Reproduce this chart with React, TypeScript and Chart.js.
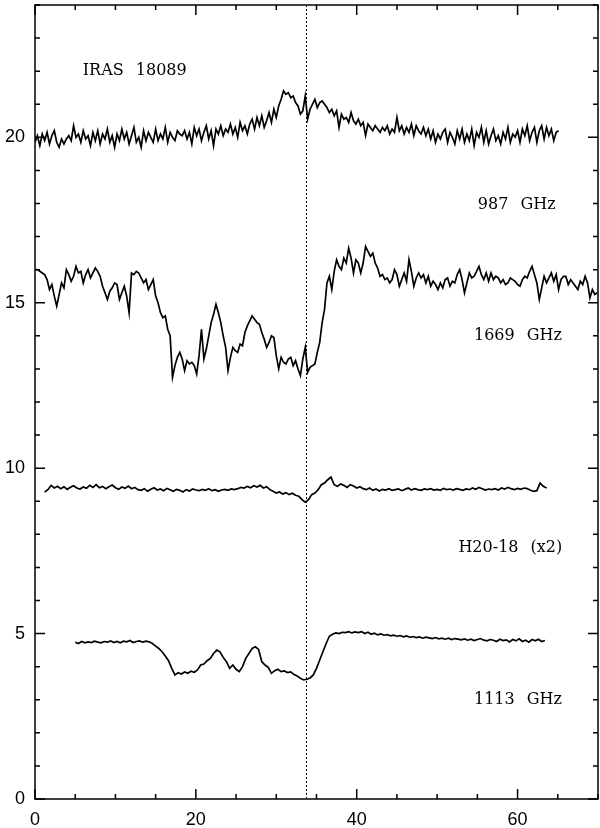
import React, { useEffect, useRef } from "react";
import { Chart, registerables } from "chart.js";

Chart.register(...registerables);

// ---- data ----
const xTicks = [0, 20, 40, 60];
const yTicks = [0, 5, 10, 15, 20];

// 987 GHz spectrum (offset to ~20)
const s987Start = 0;
const s987Step = 0.3;
const s987 = [
  19.85, 20.05, 19.75, 20.1, 19.9, 20.15, 19.8, 20.05, 20.2, 19.85,
  19.7, 19.95, 19.8, 19.95, 20.05, 19.9, 20.35, 20.0, 20.1, 19.85,
  20.2, 19.95, 20.05, 19.75, 20.15, 19.9, 20.2, 19.8, 20.1, 19.95,
  20.25, 19.85, 20.05, 19.7, 20.1, 19.9, 20.25, 19.95, 20.15, 19.8,
  20.05, 20.3, 19.85, 20.0, 19.7, 20.2, 19.9, 20.15, 20.0, 19.85,
  20.25, 19.9, 20.1, 19.95, 20.3, 19.85, 20.15, 20.0, 19.9, 20.2,
  20.1, 20.05, 20.2, 19.95, 20.15, 19.8, 20.3, 20.05, 20.25, 19.9,
  20.15, 20.35, 19.95, 20.2, 19.75, 20.25, 20.1, 20.35, 20.05, 20.25,
  20.15, 20.4, 20.1, 20.3, 20.0, 20.45, 20.2, 20.35, 20.1, 20.4,
  20.55, 20.25, 20.6, 20.35, 20.65, 20.3, 20.5, 20.75, 20.45, 20.85,
  20.6, 20.95, 21.15, 21.4, 21.3, 21.35, 21.2, 21.25, 21.05, 20.95,
  20.7, 20.8, 21.25, 20.55, 20.85, 21.0, 21.15, 20.9, 21.05, 21.1,
  21.0, 20.9, 20.75, 20.85, 20.65, 20.8, 20.3, 20.7, 20.55, 20.6,
  20.45, 20.75, 20.5, 20.4, 20.55, 20.35, 20.45, 20.05, 20.4, 20.3,
  20.2, 20.35, 20.25, 20.15, 20.3, 20.2, 20.35, 20.1, 20.25, 20.15,
  20.6, 20.2, 20.35, 20.1, 20.3, 20.15, 20.4, 20.05, 20.35, 20.2,
  20.1, 20.3, 20.05, 20.25, 19.95, 20.2, 19.85, 20.1, 19.95, 20.15,
  20.25, 19.85, 20.15, 20.0, 19.8, 20.2, 19.95, 20.25, 19.85, 20.1,
  19.9, 20.25, 19.75, 20.15, 20.0, 20.3, 19.85, 20.2, 19.8, 20.05,
  20.25, 19.9, 20.05, 19.8, 20.15, 19.95, 20.3, 19.85, 20.1, 20.0,
  20.2, 19.85, 20.25, 20.05, 20.35, 19.9, 20.15, 20.3, 19.85, 20.2,
  20.35, 19.95, 20.3, 20.05, 20.25, 19.9, 20.15, 20.2,
];

// 1669 GHz spectrum (offset to ~15.5)
const s1669Start = 0;
const s1669Step = 0.3;
const s1669 = [
  16.0, 16.0, 15.95, 15.9, 15.85, 15.7, 15.4, 15.55, 15.2, 14.9,
  15.25, 15.6, 15.45, 16.0, 15.85, 15.65, 15.8, 16.1, 15.9, 15.95,
  15.6, 15.85, 16.0, 15.75, 15.9, 16.05, 15.95, 15.8, 15.5, 15.3,
  15.1, 15.35, 15.45, 15.6, 15.55, 15.1, 15.3, 15.5, 15.2, 14.7,
  15.9, 15.85, 15.95, 15.9, 15.75, 15.6, 15.7, 15.4, 15.55, 15.7,
  15.2, 15.0, 14.7, 14.55, 14.6, 14.2, 14.0, 12.75, 13.1, 13.35,
  13.5, 13.3, 12.95, 13.25, 13.15, 13.2, 13.1, 12.85, 13.4, 14.2,
  13.3, 13.6, 14.0, 14.4, 14.65, 14.95, 14.7, 14.4, 14.0, 13.65,
  12.95, 13.35, 13.65, 13.55, 13.5, 13.75, 13.7, 14.1, 14.3, 14.45,
  14.6, 14.5, 14.4, 14.35, 14.1, 13.9, 13.65, 13.8, 14.0, 13.95,
  13.4, 13.0, 13.35, 13.2, 13.15, 13.3, 13.35, 13.1, 13.25, 13.0,
  12.8, 13.3, 13.65, 12.9, 13.05, 13.1, 13.15, 13.5, 13.8, 14.4,
  14.8, 15.6, 15.8, 15.4, 15.95, 16.3, 16.1, 16.0, 16.35, 16.2,
  16.65, 16.35, 15.9, 16.3, 16.2, 15.9, 16.2, 16.7, 16.55, 16.4,
  16.5, 16.2, 16.05, 15.8, 15.85, 15.7, 15.75, 15.6, 15.7, 16.0,
  15.85, 15.5, 15.7, 15.9, 15.65, 16.3, 15.95, 15.5, 15.75, 15.9,
  15.75, 15.85, 15.6, 15.8, 15.5, 15.65, 15.55, 15.4, 15.6, 15.45,
  15.7, 15.75, 15.5, 15.65, 15.6, 15.85, 16.0, 15.7, 15.3, 15.6,
  15.9, 15.75, 15.8, 15.95, 16.1, 15.85, 15.7, 15.9, 15.65, 15.9,
  15.7, 15.8, 15.75, 15.6, 15.7, 15.55, 15.6, 15.75, 15.7, 15.65,
  15.55, 15.5, 15.7, 15.8, 15.75, 15.95, 16.1, 15.85, 15.6, 15.1,
  15.45, 15.8, 15.6, 15.75, 15.9, 15.65, 15.85, 15.4, 15.7, 15.8,
  15.8, 15.55, 15.7, 15.6, 15.5, 15.4, 15.65, 15.55, 15.8, 15.6,
  15.15, 15.4, 15.25, 15.3,
];

// H2O-18 (x2) spectrum (offset to ~9.4)
const sH2OStart = 1.2;
const sH2OStep = 0.4;
const sH2O = [
  9.28, 9.35, 9.48, 9.4, 9.45, 9.38, 9.44, 9.36, 9.42, 9.47,
  9.4, 9.37, 9.43, 9.39, 9.48, 9.42, 9.5, 9.41, 9.45, 9.38,
  9.44, 9.49, 9.41, 9.36, 9.43, 9.39, 9.46, 9.38, 9.42, 9.35,
  9.33, 9.38, 9.3, 9.36, 9.41, 9.34, 9.37, 9.32, 9.39, 9.35,
  9.3, 9.36, 9.33, 9.28, 9.35, 9.31, 9.37, 9.34, 9.32, 9.36,
  9.33, 9.38, 9.32, 9.35, 9.3, 9.34, 9.36, 9.33, 9.37, 9.35,
  9.38, 9.42, 9.4, 9.45, 9.41, 9.47, 9.43, 9.48, 9.4, 9.44,
  9.35, 9.3, 9.25, 9.28, 9.22, 9.26, 9.2, 9.24, 9.18, 9.15,
  9.05, 8.97, 9.05, 9.2, 9.25, 9.35, 9.5, 9.55, 9.65, 9.73,
  9.5, 9.45, 9.52, 9.48, 9.42, 9.5, 9.46, 9.4, 9.44, 9.38,
  9.35, 9.4, 9.33, 9.37, 9.31, 9.36, 9.34, 9.38, 9.33, 9.35,
  9.37, 9.32, 9.36, 9.4, 9.34, 9.38, 9.35, 9.33, 9.37, 9.35,
  9.38, 9.34, 9.36, 9.33, 9.39, 9.35, 9.37, 9.34, 9.38, 9.36,
  9.33, 9.37, 9.35, 9.4, 9.36, 9.42, 9.38, 9.34, 9.37, 9.35,
  9.38, 9.34, 9.4, 9.37, 9.42, 9.38, 9.35, 9.39, 9.36, 9.4,
  9.38, 9.33, 9.3, 9.32, 9.55, 9.45, 9.4,
];

// 1113 GHz spectrum (offset to ~4.8)
const s1113Start = 5.0;
const s1113Step = 0.4;
const s1113 = [
  4.74, 4.7, 4.76, 4.72, 4.75, 4.73, 4.77, 4.74, 4.72, 4.76,
  4.74, 4.78, 4.73, 4.76, 4.72, 4.77, 4.75, 4.79, 4.73, 4.76,
  4.78, 4.74, 4.77, 4.75, 4.7, 4.62, 4.55, 4.45, 4.32, 4.18,
  3.95, 3.75, 3.82, 3.78, 3.84, 3.8, 3.86, 3.83, 3.9, 4.05,
  4.08, 4.18, 4.25, 4.4, 4.5, 4.45, 4.28, 4.15, 3.95, 4.05,
  3.92, 3.85, 4.0, 4.25, 4.4, 4.55, 4.6, 4.52, 4.15, 4.05,
  3.98, 3.8, 3.88, 3.92, 3.85, 3.87, 3.82, 3.84, 3.76, 3.72,
  3.65, 3.6, 3.62, 3.66, 3.75, 3.95, 4.2, 4.45, 4.7, 4.92,
  4.98, 5.02, 5.0, 5.04, 5.03, 5.06, 5.02, 5.05, 5.03, 5.06,
  5.0, 5.04, 4.98, 5.01, 4.96, 4.99, 4.95, 4.97, 4.93, 4.95,
  4.92, 4.94, 4.9, 4.93, 4.89, 4.91, 4.88, 4.9, 4.86, 4.89,
  4.87, 4.85, 4.88, 4.84, 4.86, 4.83, 4.86, 4.82, 4.85, 4.83,
  4.81, 4.84, 4.8, 4.83, 4.79, 4.82, 4.85, 4.8, 4.78, 4.82,
  4.8, 4.76, 4.83, 4.79, 4.81, 4.75, 4.82, 4.78, 4.84, 4.76,
  4.8, 4.74, 4.82, 4.78, 4.83, 4.76, 4.79,
];

const vLsr = 33.7;

const labels = [
  { text: "IRAS 18089", x: 12.4, y: 22.0 },
  { text: "987 GHz", x: 59.9, y: 17.96 },
  { text: "1669 GHz", x: 60.05, y: 14.0 },
  { text: "H20-18 (x2)", x: 59.1, y: 7.59 },
  { text: "1113 GHz", x: 60.05, y: 3.0 },
];

function toPoints(start: number, step: number, vals: number[]) {
  return vals.map((y, i) => ({ x: +(start + i * step).toFixed(3), y }));
}

const overlayPlugin = {
  id: "overlay",
  beforeDatasetsDraw(chart: any) {
    const { ctx, chartArea, scales } = chart;
    const px = scales.x.getPixelForValue(vLsr);
    ctx.save();
    ctx.strokeStyle = "#000";
    ctx.lineWidth = 1;
    ctx.setLineDash([2, 2]);
    ctx.beginPath();
    ctx.moveTo(Math.round(px) + 0.5, chartArea.top);
    ctx.lineTo(Math.round(px) + 0.5, chartArea.bottom);
    ctx.stroke();
    ctx.restore();
  },
  afterDatasetsDraw(chart: any) {
    const { ctx, chartArea, scales } = chart;
    const { left, right, top, bottom } = chartArea;
    ctx.save();
    ctx.strokeStyle = "#000";
    ctx.lineWidth = 1.5;
    ctx.strokeRect(left, top, right - left, bottom - top);
    ctx.beginPath();
    for (let v = 0; v <= 70; v += 5) {
      const p = scales.x.getPixelForValue(v);
      const len = v % 20 === 0 ? 10 : 5;
      ctx.moveTo(p, bottom);
      ctx.lineTo(p, bottom - len);
      ctx.moveTo(p, top);
      ctx.lineTo(p, top + len);
    }
    for (let v = 0; v <= 24; v += 1) {
      const p = scales.y.getPixelForValue(v);
      const len = v % 5 === 0 ? 10 : 5;
      ctx.moveTo(left, p);
      ctx.lineTo(left + len, p);
      ctx.moveTo(right, p);
      ctx.lineTo(right - len, p);
    }
    ctx.stroke();

    ctx.fillStyle = "#000";
    ctx.font = "16px 'DejaVu Serif'";
    ctx.textAlign = "center";
    ctx.textBaseline = "middle";
    try {
      (ctx as any).wordSpacing = "7px";
    } catch (e) {}
    for (const l of labels) {
      ctx.fillText(l.text, scales.x.getPixelForValue(l.x), scales.y.getPixelForValue(l.y));
    }
    ctx.restore();
  },
};

export default function App() {
  const ref = useRef<HTMLCanvasElement | null>(null);
  useEffect(() => {
    if (!ref.current) return;
    const ds = (d: any[]) => ({
      data: d,
      borderColor: "#000",
      borderWidth: 1.7,
      pointRadius: 0,
      tension: 0,
      fill: false,
    });
    const chart = new Chart(ref.current, {
      type: "line",
      data: {
        datasets: [
          ds(toPoints(s987Start, s987Step, s987)),
          ds(toPoints(s1669Start, s1669Step, s1669)),
          ds(toPoints(sH2OStart, sH2OStep, sH2O)),
          ds(toPoints(s1113Start, s1113Step, s1113)),
        ],
      },
      options: {
        animation: false,
        responsive: false,
        devicePixelRatio: 1,
        layout: { padding: { top: 5, right: 2, left: 0, bottom: 0 } },
        plugins: { legend: { display: false }, tooltip: { enabled: false } },
        scales: {
          x: {
            type: "linear",
            min: 0,
            max: 70,
            grid: { display: false, drawTicks: false },
            border: { display: false },
            afterBuildTicks: (s: any) => {
              s.ticks = xTicks.map((v) => ({ value: v }));
            },
            afterFit: (s: any) => {
              s.height = 29;
              s.paddingLeft = 0;
              s.paddingRight = 0;
            },
            ticks: {
              color: "#000",
              padding: 10,
              maxRotation: 0,
              font: { family: "'Liberation Sans'", size: 18 },
            },
          },
          y: {
            type: "linear",
            min: 0,
            max: 24,
            grid: { display: false, drawTicks: false },
            border: { display: false },
            afterBuildTicks: (s: any) => {
              s.ticks = yTicks.map((v) => ({ value: v }));
            },
            afterFit: (s: any) => {
              s.width = 35;
              s.paddingTop = 0;
              s.paddingBottom = 0;
            },
            ticks: {
              color: "#000",
              padding: 10,
              font: { family: "'Liberation Sans'", size: 18 },
            },
          },
        },
      },
      plugins: [overlayPlugin],
    });
    return () => chart.destroy();
  }, []);
  return (
    <div style={{ position: "absolute", left: 0, top: 0, width: 600, height: 828, background: "#fff" }}>
      <canvas ref={ref} width={600} height={828} style={{ display: "block", width: 600, height: 828 }} />
    </div>
  );
}
